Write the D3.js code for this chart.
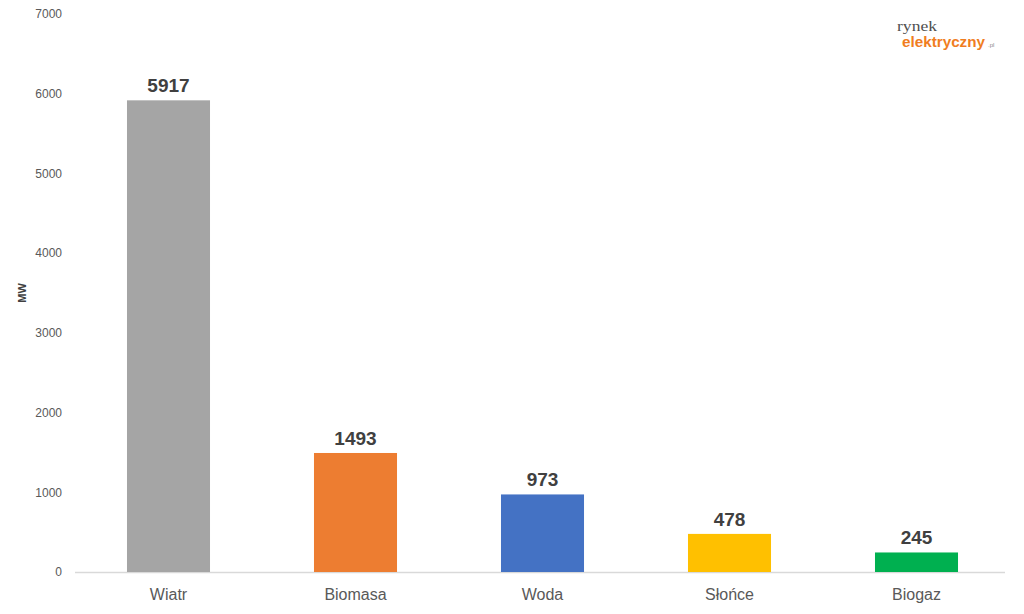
<!DOCTYPE html>
<html><head><meta charset="utf-8">
<script src="https://cdn.jsdelivr.net/npm/d3@7"></script>
<style>body{margin:0;background:#fff}svg{display:block}</style>
</head><body>
<svg id="c" width="1024" height="614"></svg>
<script>
const categories = ["Wiatr","Biomasa","Woda","Słońce","Biogaz"];
const values = [5917,1493,973,478,245];
const colors = ["#A5A5A5","#ED7D31","#4472C4","#FFC000","#00B050"];
const yTicks = [0,1000,2000,3000,4000,5000,6000,7000];
const yLabel = "MW";

const svg = d3.select("#c");
const narrow = "'Liberation Sans Narrow','Arial Narrow','Liberation Sans',Arial,sans-serif";
const x = d3.scaleBand().domain(categories).range([75,1010]).paddingInner(0.556).paddingOuter(0.278);
const y = d3.scaleLinear().domain([0,7000]).range([572,14]);

// baseline
svg.append("line").attr("x1",75).attr("x2",1005).attr("y1",y(0)+0.5).attr("y2",y(0)+0.5)
  .attr("stroke","#D9D9D9").attr("stroke-width",1.5);

// y axis
const yAxis = d3.axisLeft(y).tickValues(yTicks).tickSize(0).tickPadding(0).tickFormat(d3.format("d"));
const ya = svg.append("g").attr("transform","translate(62,0)").call(yAxis);
ya.select(".domain").remove();
ya.selectAll("text").attr("font-family",narrow).attr("font-size",12).attr("fill","#595959");

svg.append("text").attr("transform","translate(26,"+y(3500)+") rotate(-90)")
  .attr("text-anchor","middle").attr("font-family",narrow).attr("font-weight","bold")
  .attr("font-size",11).attr("fill","#404040").text(yLabel);

// bars
svg.selectAll("rect.bar").data(values).enter().append("rect")
  .attr("x",(d,i)=>x(categories[i])).attr("width",x.bandwidth())
  .attr("y",d=>y(d)).attr("height",d=>y(0)-y(d)).attr("fill",(d,i)=>colors[i]);

// value labels
svg.selectAll("text.val").data(values).enter().append("text")
  .attr("x",(d,i)=>x(categories[i])+x.bandwidth()/2).attr("y",d=>y(d)-8)
  .attr("text-anchor","middle").attr("font-family",narrow).attr("font-weight","bold")
  .attr("font-size",19).attr("fill","#404040").text(d=>d);

// x axis labels
const xAxis = d3.axisBottom(x).tickSize(0).tickPadding(0);
const xa = svg.append("g").attr("transform","translate(0,"+(y(0)+17)+")").call(xAxis);
xa.select(".domain").remove();
xa.selectAll("text").attr("font-family",narrow).attr("font-size",16).attr("fill","#595959");

// logo
const logo = svg.append("g");
logo.append("text").attr("x",897).attr("y",31).attr("font-family","'Liberation Serif',serif")
  .attr("font-size",15).attr("fill","#505050").attr("textLength",40).attr("lengthAdjust","spacingAndGlyphs").text("rynek");
logo.append("text").attr("x",902).attr("y",47).attr("font-family",narrow).attr("font-weight","bold")
  .attr("font-size",15).attr("fill","#F07D1E").attr("textLength",83).attr("lengthAdjust","spacingAndGlyphs").text("elektryczny");
logo.append("text").attr("x",988).attr("y",47).attr("font-family",narrow)
  .attr("font-size",6).attr("fill","#888").text(".pl");
</script>
</body></html>
